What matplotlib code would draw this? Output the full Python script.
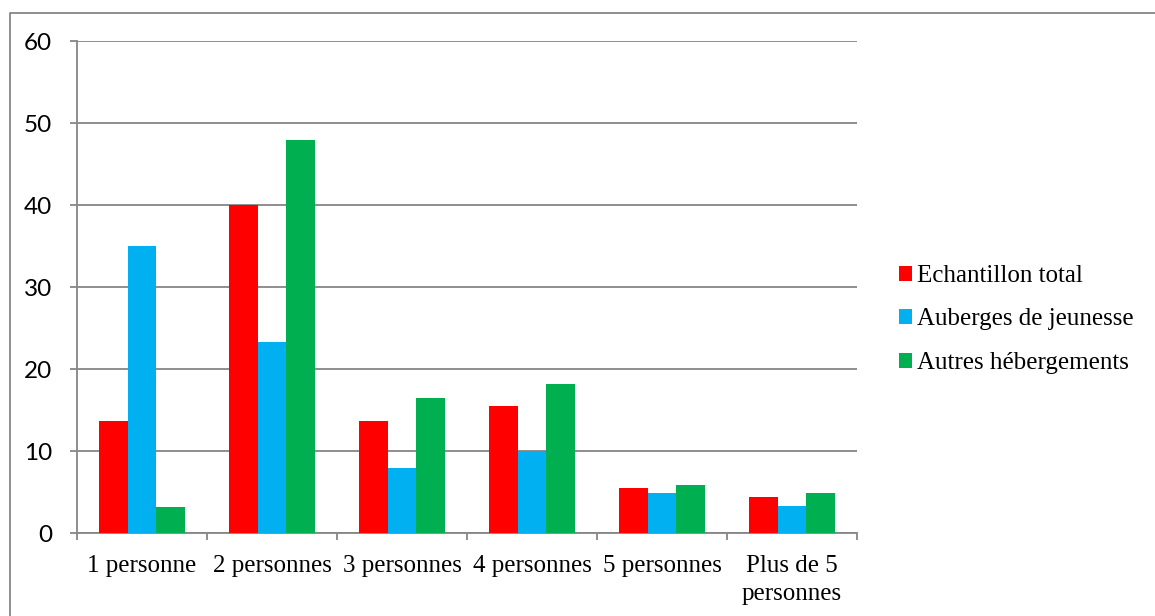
import numpy as np
import matplotlib
matplotlib.use('Agg')
import matplotlib.pyplot as plt
from matplotlib.lines import Line2D

# Household size categories and shares (%) per accommodation type
categories = ['1 personne', '2 personnes', '3 personnes', '4 personnes',
              '5 personnes', 'Plus de 5\npersonnes']
echantillon_total = [13.7, 40.0, 13.7, 15.5, 5.5, 4.4]
auberges_jeunesse = [35.0, 23.3, 7.9, 10.0, 4.9, 3.3]
autres_hebergements = [3.2, 47.9, 16.5, 18.2, 5.8, 4.9]

series = [
    ('Echantillon total', echantillon_total, '#FF0000'),
    ('Auberges de jeunesse', auberges_jeunesse, '#00B0F0'),
    ('Autres hébergements', autres_hebergements, '#00B050'),
]

grey = '#868686'
serif = 'Liberation Serif'

fig = plt.figure(figsize=(11.55, 6.16), dpi=100)
ax = fig.add_axes([77 / 1155, 83 / 616, 780 / 1155, 492 / 616])

x = np.arange(len(categories))
width = 0.223
for i, (name, vals, color) in enumerate(series):
    ax.bar(x + (i - 1) * width, vals, width, color=color, label=name, zorder=3)

ax.set_xlim(-0.5, len(categories) - 0.5)
ax.set_ylim(0, 60)
ax.set_yticks(range(0, 61, 10))
ax.yaxis.grid(True, color=grey, linewidth=1.3, zorder=0)

# Category labels centred, tick marks on category boundaries
ax.set_xticks(x)
ax.set_xticklabels(categories, fontfamily=serif, fontsize=18)
for lbl in ax.get_xticklabels():
    lbl.set_linespacing(1.35)
ax.set_xticks(np.arange(-0.5, len(categories)), minor=True)
ax.tick_params(axis='x', which='major', length=0, pad=16)
ax.tick_params(axis='x', which='minor', length=5, width=1.3, color=grey)
ax.tick_params(axis='y', length=5, width=1.3, color=grey, pad=13)
for lbl in ax.get_yticklabels():
    lbl.set_fontfamily('Lato')
    lbl.set_fontsize(17.5)

for side in ('top', 'right'):
    ax.spines[side].set_visible(False)
for side in ('left', 'bottom'):
    ax.spines[side].set_color(grey)
    ax.spines[side].set_linewidth(1.3)

ax.legend(loc='center left', bbox_to_anchor=(899 / 1155, 296.5 / 616),
          bbox_transform=fig.transFigure, frameon=False,
          prop={'family': serif, 'size': 18},
          handlelength=0.53, handleheight=0.53, handletextpad=0.2,
          labelspacing=0.86, borderpad=0, borderaxespad=0)

# Chart frame (left and top edges)
fig.add_artist(Line2D([10 / 1155, 10 / 1155, 1.01], [-0.01, 1 - 13 / 616, 1 - 13 / 616],
                      transform=fig.transFigure, color=grey, linewidth=1.3))

fig.savefig('out.png', dpi=100)
